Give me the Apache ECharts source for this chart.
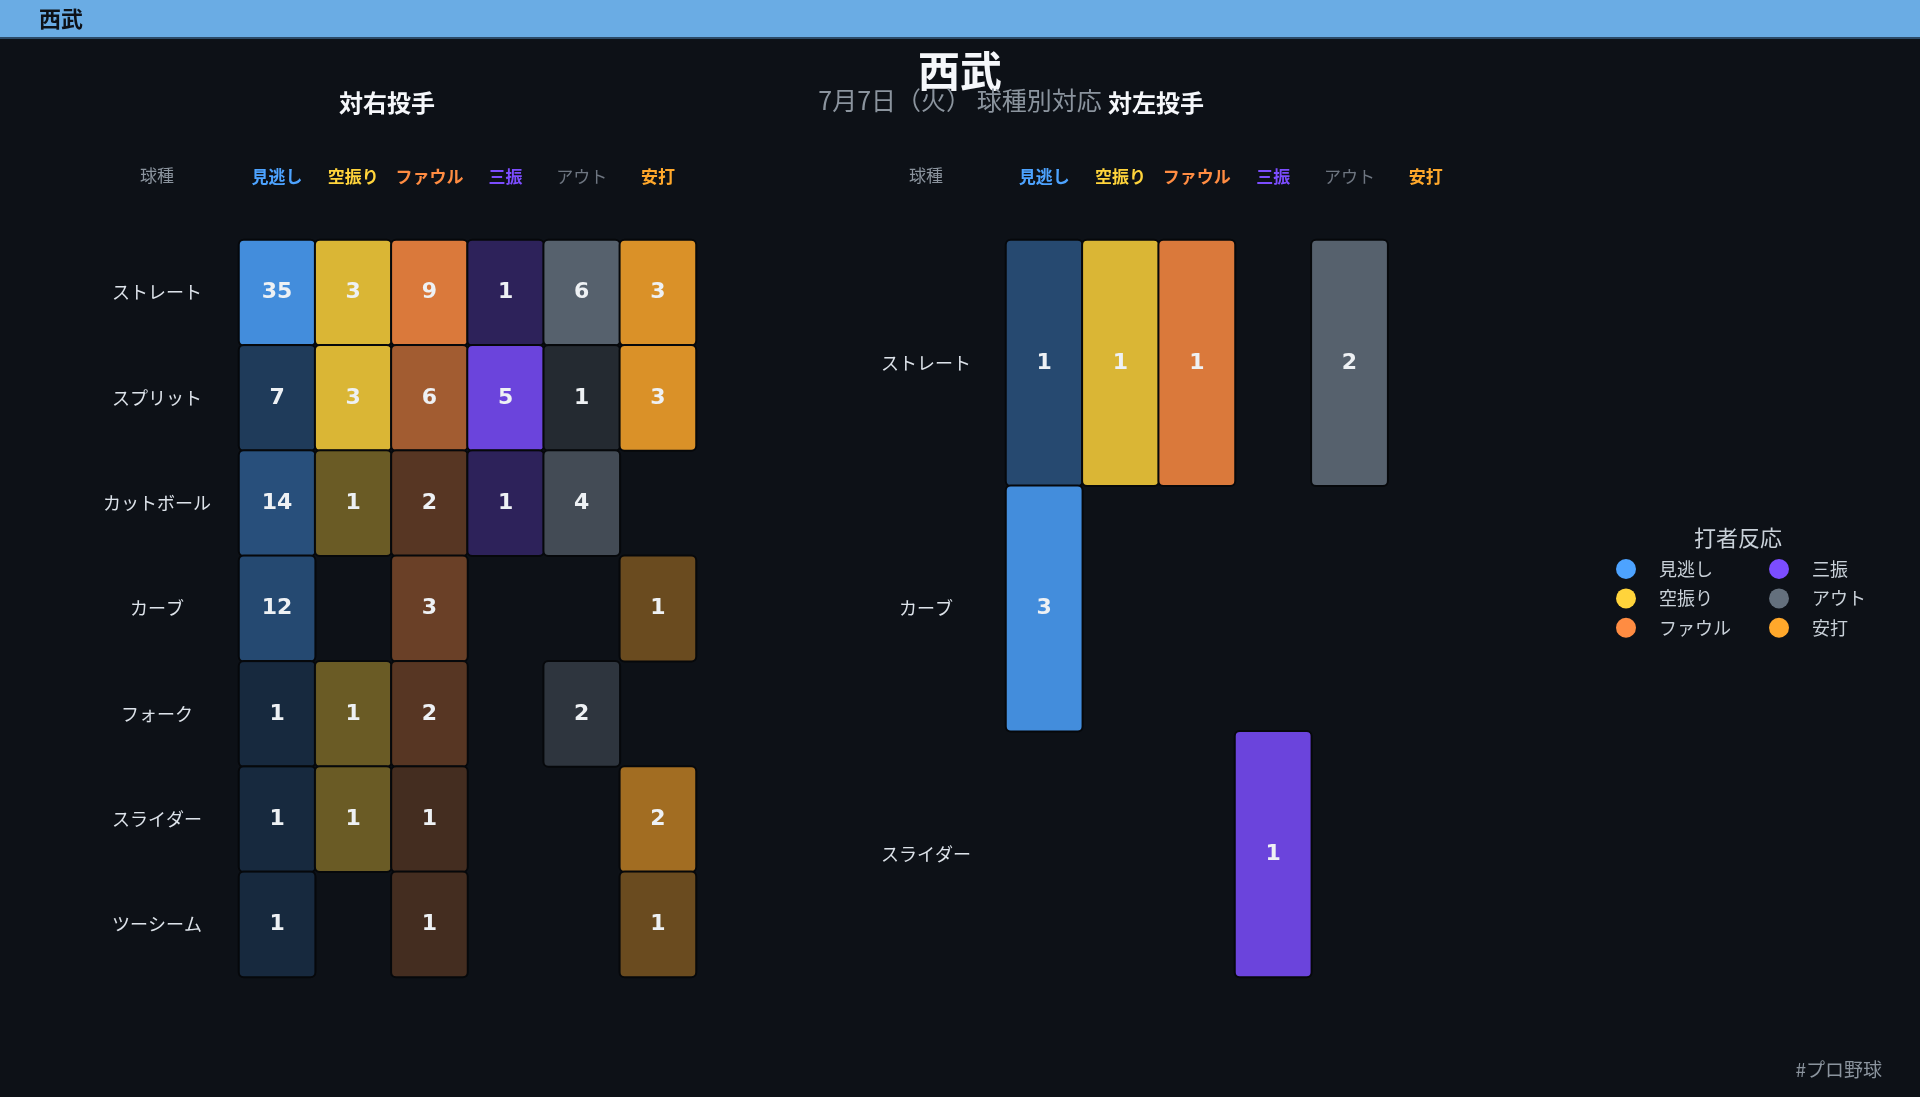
<!DOCTYPE html>
<html><head><meta charset="utf-8">
<script src="https://cdn.jsdelivr.net/npm/echarts@6/dist/echarts.min.js"></script>
<style>html,body{margin:0;padding:0;background:#0d1117;}#c{width:1920px;height:1097px;}</style>
</head><body><div id="c"></div>
<script>
// ---- data ----
const responses = ['見逃し', '空振り', 'ファウル', '三振', 'アウト', '安打'];
const pitchesVsRight = ['ストレート', 'スプリット', 'カットボール', 'カーブ', 'フォーク', 'スライダー', 'ツーシーム'];
const pitchesVsLeft = ['ストレート', 'カーブ', 'スライダー'];
// vs right-handed pitchers: one array per response, rows follow pitchesVsRight
const vsR_look  = [35, 7, 14, 12, 1, 1, 1];
const vsR_swing = [3, 3, 1, null, 1, 1, null];
const vsR_foul  = [9, 6, 2, 3, 2, 1, 1];
const vsR_k     = [1, 5, 1, null, null, null, null];
const vsR_out   = [6, 1, 4, null, 2, null, null];
const vsR_hit   = [3, 3, null, 1, null, 2, 1];
// vs left-handed pitchers, rows follow pitchesVsLeft
const vsL_look  = [1, 3, null];
const vsL_swing = [1, null, null];
const vsL_foul  = [1, null, null];
const vsL_k     = [null, null, 1];
const vsL_out   = [2, null, null];
const vsL_hit   = [null, null, null];

const baseColors = ['#4da3ff', '#ffd43b', '#ff8c42', '#7c4dff', '#64707d', '#ffa82b'];
const headerColors = ['#4da3ff', '#ffd43b', '#ff8c42', '#7c4dff', '#6e7681', '#ffa82b'];

function hexToRgb(h){return [parseInt(h.slice(1,3),16),parseInt(h.slice(3,5),16),parseInt(h.slice(5,7),16)];}
function shade(hex, v, max){
  const a = 0.15 + 0.7 * v / max;
  const [r,g,b] = hexToRgb(hex);
  return `rgba(${r},${g},${b},${a.toFixed(3)})`;
}

const tables = [
  {cols:[vsR_look,vsR_swing,vsR_foul,vsR_k,vsR_out,vsR_hit], grid:0},
  {cols:[vsL_look,vsL_swing,vsL_foul,vsL_k,vsL_out,vsL_hit], grid:1}
];

const series = [];
tables.forEach(t => {
  t.cols.forEach((arr, j) => {
    const vals = arr.filter(v => v != null);
    const max = vals.length ? Math.max(...vals) : 1;
    const data = [];
    arr.forEach((v, i) => {
      if (v == null) return;
      data.push({value:[j, i, v], itemStyle:{color: shade(baseColors[j], v, max)}});
    });
    series.push({
      type:'heatmap', name: responses[j],
      xAxisIndex: t.grid, yAxisIndex: t.grid,
      data,
      itemStyle:{color: baseColors[j], borderColor:'#06080b', borderWidth:2, borderRadius:5},
      label:{show:true, formatter: p => p.value[2], color:'#eef1f4', fontSize:22, fontWeight:'bold', fontFamily:'DejaVu Sans'},
      emphasis:{disabled:true}
    });
  });
});

function xAxisFor(gi){
  return {
    type:'category', gridIndex: gi, position:'top',
    data: responses.map((r, j) => ({value: r, textStyle:{color: headerColors[j], fontWeight: j===4 ? 'normal' : 'bold'}})),
    axisLine:{show:false}, axisTick:{show:false}, splitLine:{show:false},
    axisLabel:{interval:0, margin:55, fontSize:17, fontFamily:'Noto Sans CJK JP'}
  };
}
function yAxisFor(gi, cats, margin){
  return {
    type:'category', gridIndex: gi, inverse:true, data: cats,
    axisLine:{show:false}, axisTick:{show:false}, splitLine:{show:false},
    axisLabel:{interval:0, margin, align:'center', color:'#dde3ea', fontSize:18, fontFamily:'Noto Sans CJK JP'}
  };
}

const legendCommon = {
  orient:'vertical', icon:'circle', itemWidth:56, itemHeight:20, itemGap:9.4, padding:0,
  itemStyle:{borderWidth:0},
  textStyle:{color:'#c9d1d9', fontSize:18, lineHeight:20, fontFamily:'Noto Sans CJK JP'},
  selectedMode:false
};

const chart = echarts.init(document.getElementById('c'));
chart.setOption({
  backgroundColor:'#0d1117',
  textStyle:{fontFamily:'Noto Sans CJK JP'},
  animation:false,
  title:[
    {text:'西武', left:'center', top:50, padding:0, textStyle:{color:'#f5f7fa', fontSize:42, fontWeight:'bold', lineHeight:42}},
    {text:'7月7日（火） 球種別対応', left:'center', top:87, padding:0, textStyle:{color:'#8b949e', fontSize:25, fontWeight:'normal', lineHeight:26}},
    {text:'対右投手', left:387, textAlign:'center', top:91, padding:0, textStyle:{color:'#f5f7fa', fontSize:24, fontWeight:'bold', lineHeight:24}},
    {text:'対左投手', left:1156, textAlign:'center', top:91, padding:0, textStyle:{color:'#f5f7fa', fontSize:24, fontWeight:'bold', lineHeight:24}},
    {text:'打者反応', left:1738, textAlign:'center', top:527, padding:0, textStyle:{color:'#c9d1d9', fontSize:22, fontWeight:'normal', lineHeight:22}}
  ],
  legend:[
    Object.assign({left:1616, top:559, data:['見逃し','空振り','ファウル']}, legendCommon),
    Object.assign({left:1769, top:559, data:['三振','アウト','安打']}, legendCommon)
  ],
  grid:[
    {left:239, top:240, width:457, height:737},
    {left:1006, top:240, width:458, height:737}
  ],
  xAxis:[xAxisFor(0), xAxisFor(1)],
  yAxis:[yAxisFor(0, pitchesVsRight, 82), yAxisFor(1, pitchesVsLeft, 80)],
  series,
  graphic:[
    {type:'rect', left:0, top:0, shape:{width:1920, height:38}, style:{fill:'#6aace4'}, z:10},
    {type:'rect', left:0, top:37, shape:{width:1920, height:2}, style:{fill:'#2c4a66'}, z:10},
    {type:'text', left:39, top:8, z:11, style:{text:'西武', fill:'#0d1117', fontSize:22, fontWeight:'bold', fontFamily:'Noto Sans CJK JP'}},
    {type:'text', x:157, y:176, z:5, style:{text:'球種', fill:'#8b949e', fontSize:17, align:'center', verticalAlign:'middle', fontFamily:'Noto Sans CJK JP'}},
    {type:'text', x:926, y:176, z:5, style:{text:'球種', fill:'#8b949e', fontSize:17, align:'center', verticalAlign:'middle', fontFamily:'Noto Sans CJK JP'}},
    {type:'text', x:1882, y:1070, z:5, style:{text:'#プロ野球', fill:'#8b949e', fontSize:19, align:'right', verticalAlign:'middle', fontFamily:'Noto Sans CJK JP'}}
  ]
});
</script></body></html>
